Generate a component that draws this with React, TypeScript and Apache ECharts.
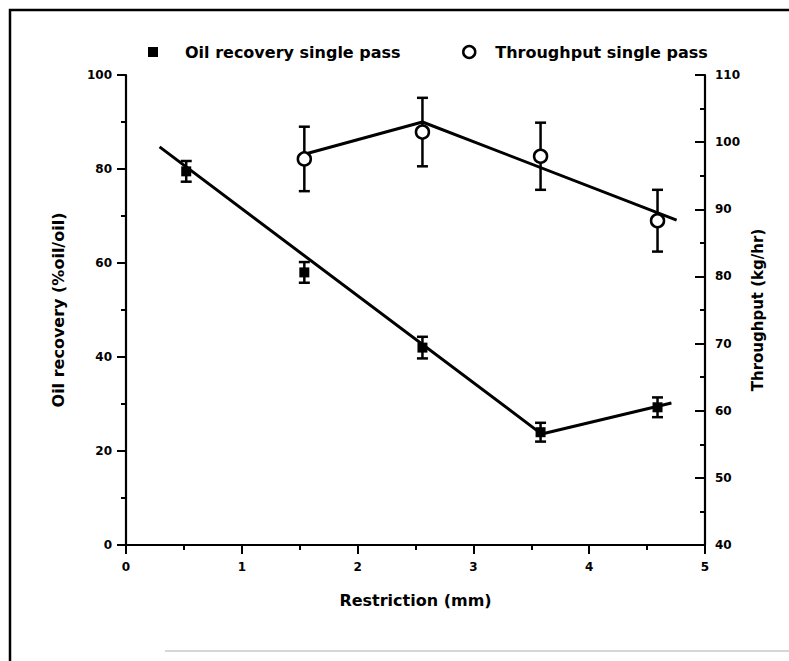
import React, { useEffect, useRef } from "react";
import * as echarts from "echarts";

// ---- data ----
const oilName = "Oil recovery single pass";
const thrName = "Throughput single pass";

const oilX = [0.52, 1.54, 2.56, 3.58, 4.59];
const oilY = [79.5, 58.0, 42.0, 24.0, 29.3];
const oilErr = [2.2, 2.2, 2.3, 2.0, 2.1];

const thrX = [1.54, 2.56, 3.58, 4.59];
const thrY = [97.5, 101.5, 97.9, 88.3];
const thrErr = [4.8, 5.1, 5.0, 4.6];

// fitted (piecewise) lines drawn through the data
const oilFitX = [0.29, 3.59, 4.71];
const oilFitY = [84.7, 23.6, 30.2];
const thrFitX = [1.54, 2.56, 4.755];
const thrFitY = [98.2, 103.0, 88.4];

const xTicks = { min: 0, max: 5, interval: 1 };
const leftTicks = { min: 0, max: 100, interval: 20 };
const rightTicks = { min: 40, max: 110, interval: 10 };

const FONT = "DejaVu Sans";

function errorBarRender(params: any, api: any) {
  const x = api.value(0);
  const lo = api.coord([x, api.value(1)]);
  const hi = api.coord([x, api.value(2)]);
  const w = 5.5;
  const st = { stroke: "#000", lineWidth: 2.5 };
  return {
    type: "group",
    children: [
      { type: "line", shape: { x1: lo[0], y1: lo[1], x2: hi[0], y2: hi[1] }, style: st },
      { type: "line", shape: { x1: lo[0] - w, y1: lo[1], x2: lo[0] + w, y2: lo[1] }, style: st },
      { type: "line", shape: { x1: hi[0] - w, y1: hi[1], x2: hi[0] + w, y2: hi[1] }, style: st },
    ],
  };
}

export default function App() {
  const ref = useRef<HTMLDivElement>(null);

  useEffect(() => {
    if (!ref.current) return;
    const chart = echarts.init(ref.current, null, { renderer: "svg" });

    const axisLine = { show: true, onZero: false, lineStyle: { color: "#000", width: 2.2 } };
    const labelStyle = { color: "#000", fontFamily: FONT, fontWeight: "bold" as const, fontSize: 12 };
    const nameStyle = { color: "#000", fontFamily: FONT, fontWeight: "bold" as const, fontSize: 16 };

    const option: any = {
      animation: false,
      backgroundColor: "#fff",
      grid: { left: 126, right: 84, top: 75, bottom: 116, containLabel: false },
      legend: [
        {
          data: [{ name: oilName, icon: "rect", itemStyle: { color: "#000", opacity: 1 } }],
          left: 143,
          top: 38,
          itemWidth: 10,
          itemHeight: 10,
          selectedMode: false,
          textStyle: { ...nameStyle, padding: [0, 0, 0, 22], lineHeight: 18 },
        },
        {
          data: [
            {
              name: thrName,
              icon: "circle",
              itemStyle: { color: "#fff", borderColor: "#000", borderWidth: 2.5, opacity: 1 },
            },
          ],
          left: 457,
          top: 38,
          itemWidth: 12,
          itemHeight: 12,
          selectedMode: false,
          textStyle: { ...nameStyle, padding: [0, 0, 0, 15], lineHeight: 18 },
        },
      ],
      xAxis: {
        type: "value",
        ...xTicks,
        name: "Restriction (mm)",
        nameLocation: "middle",
        nameGap: 47,
        nameTextStyle: nameStyle,
        axisLine,
        axisTick: { show: true, length: 9, lineStyle: { color: "#000", width: 2 } },
        minorTick: { show: true, splitNumber: 2, length: 5, lineStyle: { color: "#000", width: 2 } },
        axisLabel: { ...labelStyle, margin: 16 },
        splitLine: { show: false },
      },
      yAxis: [
        {
          type: "value",
          position: "left",
          ...leftTicks,
          name: "Oil recovery (%oil/oil)",
          nameLocation: "middle",
          nameRotate: 90,
          nameGap: 60,
          nameTextStyle: nameStyle,
          axisLine,
          axisTick: { show: true, length: 9, lineStyle: { color: "#000", width: 2 } },
          minorTick: { show: true, splitNumber: 2, length: 5, lineStyle: { color: "#000", width: 2 } },
          axisLabel: { ...labelStyle, margin: 14 },
          splitLine: { show: false },
        },
        {
          type: "value",
          position: "right",
          ...rightTicks,
          name: "Throughput (kg/hr)",
          nameLocation: "middle",
          nameRotate: 90,
          nameGap: 44,
          nameTextStyle: { ...nameStyle, fontSize: 15 },
          axisLine,
          axisTick: { show: true, inside: true, length: 10, lineStyle: { color: "#000", width: 2 } },
          minorTick: { show: true, splitNumber: 2, length: 5, lineStyle: { color: "#000", width: 2 } },
          axisLabel: { ...labelStyle, margin: 10 },
          splitLine: { show: false },
        },
      ],
      graphic: [
        {
          type: "rect",
          shape: { x: 10, y: 10, width: 800, height: 700 },
          style: { fill: "none", stroke: "#000", lineWidth: 2.5 },
          silent: true,
          z: 100,
        },
        {
          type: "line",
          shape: { x1: 165, y1: 651, x2: 789, y2: 651 },
          style: { stroke: "#c8c8c8", lineWidth: 1.5 },
          silent: true,
        },
      ],
      series: [
        {
          name: "Oil fit",
          type: "line",
          yAxisIndex: 0,
          data: oilFitX.map((x, i) => [x, oilFitY[i]]),
          showSymbol: false,
          symbol: "none",
          lineStyle: { color: "#000", width: 3 },
          z: 2,
        },
        {
          name: "Throughput fit",
          type: "line",
          yAxisIndex: 1,
          data: thrFitX.map((x, i) => [x, thrFitY[i]]),
          showSymbol: false,
          symbol: "none",
          lineStyle: { color: "#000", width: 3 },
          z: 2,
        },
        {
          name: "Oil error",
          type: "custom",
          yAxisIndex: 0,
          renderItem: errorBarRender,
          encode: { x: 0, y: [1, 2] },
          data: oilX.map((x, i) => [x, oilY[i] - oilErr[i], oilY[i] + oilErr[i]]),
          z: 3,
        },
        {
          name: "Throughput error",
          type: "custom",
          yAxisIndex: 1,
          renderItem: errorBarRender,
          encode: { x: 0, y: [1, 2] },
          data: thrX.map((x, i) => [x, thrY[i] - thrErr[i], thrY[i] + thrErr[i]]),
          z: 3,
        },
        {
          name: oilName,
          type: "scatter",
          yAxisIndex: 0,
          symbol: "rect",
          symbolSize: 10,
          itemStyle: { color: "#000", opacity: 1 },
          data: oilX.map((x, i) => [x, oilY[i]]),
          z: 4,
        },
        {
          name: thrName,
          type: "scatter",
          yAxisIndex: 1,
          symbol: "circle",
          symbolSize: 13,
          itemStyle: { color: "#fff", borderColor: "#000", borderWidth: 2.5, opacity: 1 },
          data: thrX.map((x, i) => [x, thrY[i]]),
          z: 4,
        },
      ],
    };

    chart.setOption(option);
    return () => chart.dispose();
  }, []);

  return (
    <div
      ref={ref}
      style={{ position: "absolute", left: 0, top: 0, width: 789, height: 661, background: "#fff" }}
    />
  );
}
